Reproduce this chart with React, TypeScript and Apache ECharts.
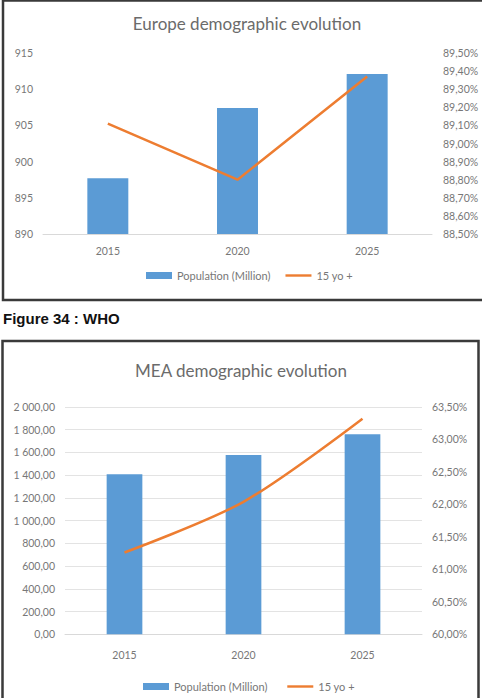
import React, { useEffect, useRef } from "react";
import * as echarts from "echarts";

const years = ["2015", "2020", "2025"];
const europePopulation = [897.7, 907.4, 912.1];
const europe15yo = [89.11, 88.8, 89.37];
const meaPopulation = [1408, 1578, 1760];
const mea15yo = [61.26, 62.04, 63.32];

const FONT = "Lato";
const LABEL = "#777777";
const TITLE = "#6b6b6b";
const BLUE = "#5B9BD5";
const ORANGE = "#ED7D31";
const LINE_ICON = "path://M0,0H28V2.6H0Z";

const fmtPct = (v: number) => v.toFixed(2).replace(".", ",") + "%";
const fmtNum = (v: number) => {
  const [i, d] = v.toFixed(2).split(".");
  return i.replace(/\B(?=(\d{3})+(?!\d))/g, " ") + "," + d;
};

export default function App() {
  const ref = useRef<HTMLDivElement>(null);
  useEffect(() => {
    if (!ref.current) return;
    const chart = echarts.init(ref.current, undefined, { renderer: "svg" });
    const axisLabel = { color: LABEL, fontFamily: FONT, fontSize: 10.5 };
    chart.setOption({
      animation: false,
      backgroundColor: "#ffffff",
      textStyle: { fontFamily: FONT },
      title: [
        {
          text: "Europe demographic evolution",
          left: 247,
          textAlign: "center",
          top: 15,
          padding: 0,
          textStyle: { color: TITLE, fontFamily: FONT, fontSize: 17, fontWeight: "normal" },
        },
        {
          text: "MEA demographic evolution",
          left: 241,
          textAlign: "center",
          top: 362,
          padding: 0,
          textStyle: { color: TITLE, fontFamily: FONT, fontSize: 17, fontWeight: "normal" },
        },
      ],
      legend: [
        {
          left: 146,
          top: 270,
          padding: 0,
          itemWidth: 26,
          itemHeight: 7,
          itemGap: 15,
          data: [
            { name: "Population (Million)", icon: "rect" },
            { name: "15 yo +", icon: LINE_ICON },
          ],
          textStyle: { color: LABEL, fontFamily: FONT, fontSize: 11 },
        },
        {
          left: 143,
          top: 681,
          padding: 0,
          itemWidth: 26,
          itemHeight: 7,
          itemGap: 17,
          data: [
            { name: "Population (Million) ", icon: "rect" },
            { name: "15 yo + ", icon: LINE_ICON },
          ],
          textStyle: { color: LABEL, fontFamily: FONT, fontSize: 11 },
        },
      ],
      grid: [
        { left: 43, top: 53, width: 389, height: 181 },
        { left: 65, top: 407, width: 357, height: 227.3 },
      ],
      xAxis: [
        {
          type: "category",
          gridIndex: 0,
          data: years,
          axisLine: { lineStyle: { color: "#d9d9d9" } },
          axisTick: { show: false },
          axisLabel: { ...axisLabel, margin: 11 },
        },
        {
          type: "category",
          gridIndex: 1,
          data: years,
          axisLine: { lineStyle: { color: "#d9d9d9" } },
          axisTick: { show: false },
          axisLabel: { ...axisLabel, margin: 15 },
        },
      ],
      yAxis: [
        {
          type: "value",
          gridIndex: 0,
          min: 890,
          max: 915,
          interval: 5,
          splitLine: { show: false },
          axisLabel: { ...axisLabel, margin: 10 },
        },
        {
          type: "value",
          gridIndex: 0,
          position: "right",
          min: 88.5,
          max: 89.5,
          interval: 0.1,
          splitLine: { show: false },
          axisLabel: { ...axisLabel, margin: 11, formatter: fmtPct },
        },
        {
          type: "value",
          gridIndex: 1,
          min: 0,
          max: 2000,
          interval: 200,
          splitLine: { lineStyle: { color: "#e3e3e3" } },
          axisLabel: { ...axisLabel, margin: 10, formatter: fmtNum },
        },
        {
          type: "value",
          gridIndex: 1,
          position: "right",
          min: 60,
          max: 63.5,
          interval: 0.5,
          splitLine: { show: false },
          axisLabel: { ...axisLabel, margin: 10, formatter: fmtPct },
        },
      ],
      series: [
        {
          name: "Population (Million)",
          type: "bar",
          xAxisIndex: 0,
          yAxisIndex: 0,
          data: europePopulation,
          barWidth: "31.6%",
          itemStyle: { color: BLUE },
        },
        {
          name: "15 yo +",
          type: "line",
          xAxisIndex: 0,
          yAxisIndex: 1,
          data: europe15yo,
          symbol: "none",
          lineStyle: { color: ORANGE, width: 2.5 },
          itemStyle: { color: ORANGE },
        },
        {
          name: "Population (Million) ",
          type: "bar",
          xAxisIndex: 1,
          yAxisIndex: 2,
          data: meaPopulation,
          barWidth: "30%",
          itemStyle: { color: BLUE },
        },
        {
          name: "15 yo + ",
          type: "line",
          xAxisIndex: 1,
          yAxisIndex: 3,
          data: mea15yo,
          symbol: "none",
          smooth: 0.3,
          lineStyle: { color: ORANGE, width: 2.5 },
          itemStyle: { color: ORANGE },
        },
      ],
      graphic: [
        {
          type: "rect",
          shape: { x: 3, y: 0.5, width: 490, height: 299.5 },
          style: { fill: "transparent", stroke: "#3a3a3a", lineWidth: 2.5 },
          silent: true,
        },
        {
          type: "rect",
          shape: { x: 2.5, y: 341, width: 476, height: 420 },
          style: { fill: "transparent", stroke: "#3a3a3a", lineWidth: 2.5 },
          silent: true,
        },
        {
          type: "text",
          x: 3,
          y: 318,
          style: {
            text: "Figure 34 : WHO",
            fill: "#111111",
            font: "bold 15px 'Liberation Sans', Arial, sans-serif",
            verticalAlign: "middle",
            align: "left",
          },
          silent: true,
        },
      ],
    });
    return () => chart.dispose();
  }, []);
  return (
    <div
      ref={ref}
      style={{ position: "fixed", left: 0, top: 0, width: 482, height: 698 }}
    />
  );
}
